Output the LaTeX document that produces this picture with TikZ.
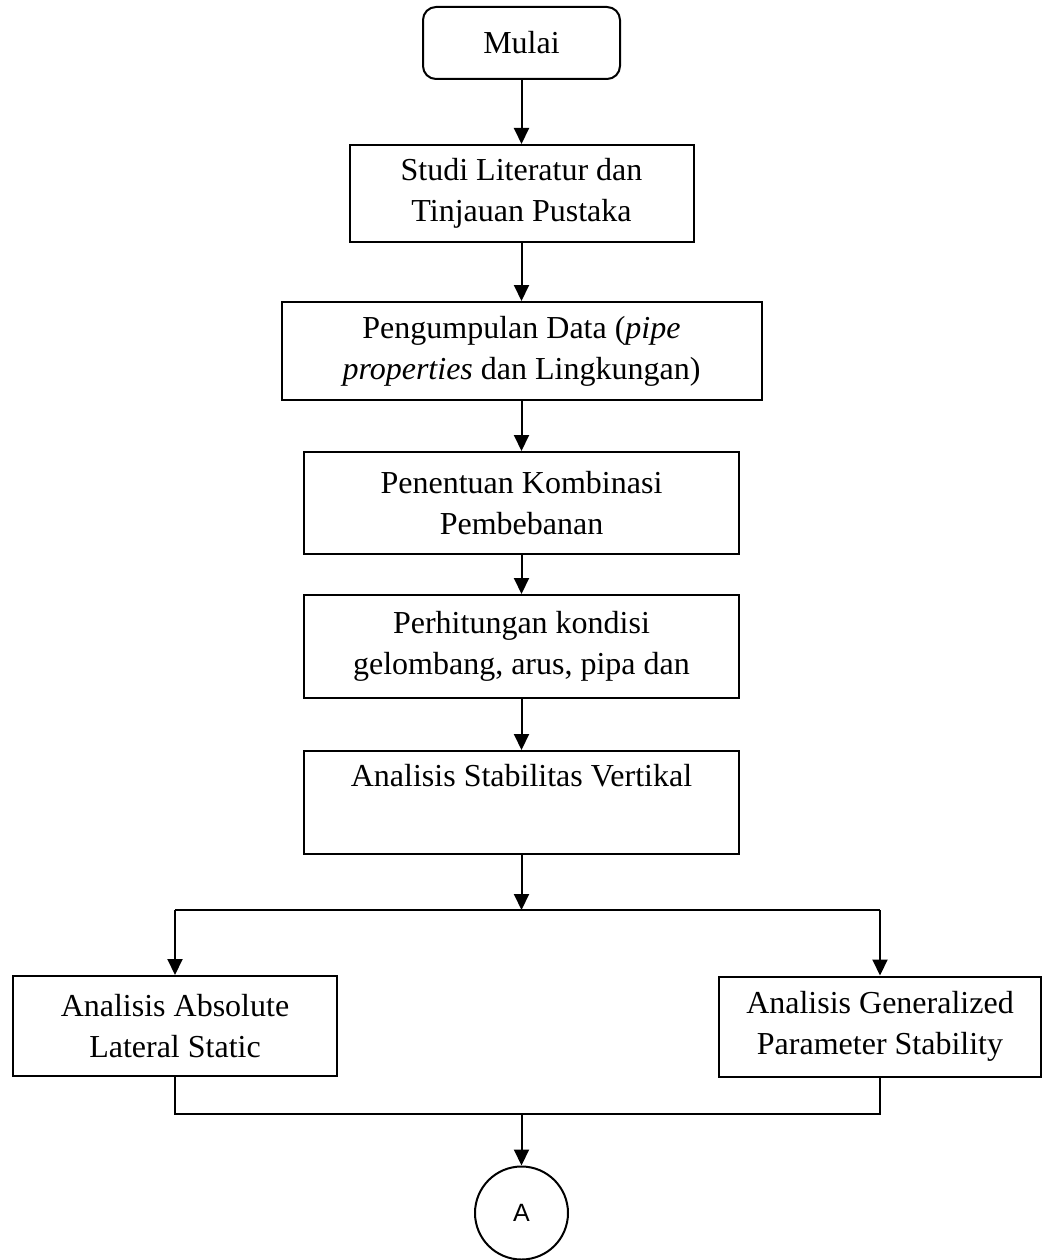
\documentclass[tikz,border=0pt]{standalone}
\usepackage{fontspec}
\setmainfont{Liberation Serif}
\newfontfamily\sansA{Liberation Sans}
\usetikzlibrary{arrows.meta,positioning}
\tikzset{
  boxnode/.style={draw, line width=2pt, inner sep=0pt, align=center,
    font=\fontsize{32}{41}\selectfont},
  startnode/.style={boxnode, rounded corners=13pt},
  connnode/.style={draw, circle, line width=2pt, inner sep=0pt, minimum size=93pt,
    font=\sansA\fontsize{25}{30}\selectfont},
  arr/.style={line width=2pt, -{Triangle[width=15pt,length=16pt]}},
  ln/.style={line width=2pt}
}
\begin{document}
\begin{tikzpicture}[x=1pt,y=-1pt]
\useasboundingbox (0,0) rectangle (1043,1260);
\node[startnode, minimum width=197pt, minimum height=72pt] (m) at (521.5,43) {Mulai};
\node[boxnode, minimum width=344pt, minimum height=97pt] (b2) at (521.5,193.5) {Studi Literatur dan\\Tinjauan Pustaka};
\node[boxnode, minimum width=480pt, minimum height=98pt] (b3) at (521.5,351) {Pengumpulan Data (\textit{pipe}\\\textit{properties} dan Lingkungan)};
\node[boxnode, minimum width=435pt, minimum height=102pt] (b4) at (521.5,503) {Penentuan Kombinasi\\Pembebanan};
\node[boxnode, minimum width=435pt, minimum height=103pt] (b5) at (521.5,646.5) {Perhitungan kondisi\\gelombang, arus, pipa dan};
\node[boxnode, minimum width=435pt, minimum height=103pt] (b6) at (521.5,802.5) {Analisis Stabilitas Vertikal\\\strut};
\node[boxnode, minimum width=324pt, minimum height=100pt] (L) at (175,1026) {Analisis Absolute\\Lateral Static};
\node[boxnode, minimum width=322pt, minimum height=100pt] (R) at (880,1026.5) {Analisis Generalized\\Parameter Stability};
\node[connnode] (A) at (521.5,1213) {A};
\coordinate (j1) at (521.5,910);
\coordinate (j2) at (521.5,1114);
\draw[arr] (m.south) -- (b2.north);
\draw[arr] (b2.south) -- (b3.north);
\draw[arr] (b3.south) -- (b4.north);
\draw[arr] (b4.south) -- (b5.north);
\draw[arr] (b5.south) -- (b6.north);
\draw[arr] (b6.south) -- (j1);
\draw[ln] (L.north |- j1) -- (R.north |- j1);
\draw[arr] (L.north |- j1) -- (L.north);
\draw[arr] (R.north |- j1) -- (R.north);
\draw[ln] (L.south) -- (L.south |- j2) -- (R.south |- j2) -- (R.south);
\draw[arr] (j2) -- (A.north);
\end{tikzpicture}
\end{document}
